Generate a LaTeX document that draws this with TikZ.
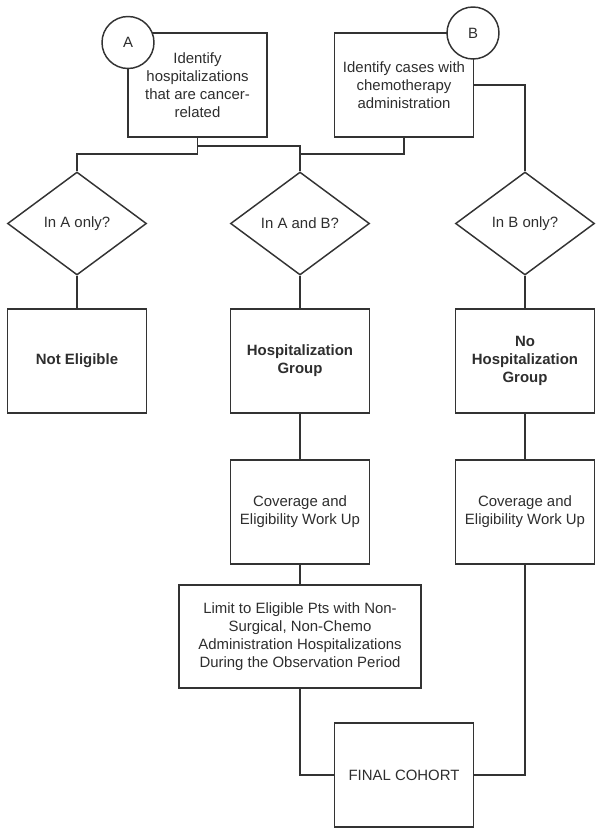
\documentclass[tikz,border=0pt]{standalone}
\usepackage{fontspec}
\setmainfont{Liberation Sans}
\usepackage{xcolor}
\usepackage{tikz}
\usetikzlibrary{shapes.geometric}

\begin{document}
\begin{tikzpicture}[
    x=0.75pt, y=-0.75pt,
    line width=1.1pt, draw=black!78,
    txt/.style={font=\fontsize{11.2}{13.6}\selectfont, text=black!82, align=center},
    box/.style={txt, draw=black!80, fill=white, line width=1.15pt, inner sep=0pt,
                minimum width=104.25pt, minimum height=78pt},
    widebox/.style={box, minimum width=181.5pt, minimum height=77.25pt},
    decide/.style={txt, diamond, draw=black!80, line width=1.1pt, inner sep=0pt,
                   minimum width=104.25pt, minimum height=77.25pt},
    tag/.style={txt, circle, draw=black!80, fill=white, line width=1.1pt, inner sep=0pt,
                minimum size=39pt},
    group/.style={box, font=\fontsize{11.2}{13.6}\selectfont\bfseries},
    link/.style={draw=black!80, line width=1.15pt},
]

\useasboundingbox (0,0) rectangle (602,835);

\def\M{300}

% ══════════════════════════════════════
% TOP: sources A and B
% ══════════════════════════════════════
\node[box] (boxA) at (197.5,85) {Identify\\hospitalizations\\that are cancer-\\related};
\node[tag] (tagA) at (128,42.5) {A};

\node[box] (boxB) at (404,85) {Identify cases with\\chemotherapy\\administration};
\node[tag] (tagB) at (473,33) {B};

% ══════════════════════════════════════
% Decisions
% ══════════════════════════════════════
\node[decide] (onlyA) at (77,223.5) {In A only?};
\node[decide] (bothAB) at (\M,223.5) {In A and B?};
\node[decide] (onlyB) at (525,223.5) {In B only?};

% junctions under the top boxes
\coordinate (jA) at (197.5,154);
\coordinate (jAB) at (197.5,146);
\coordinate (jB) at (\M,154);

\draw[link] (boxA.south) -- (jA) -| (onlyA.north);
\draw[link] (jAB) -| (bothAB.north);
\draw[link] (boxB.south) |- (jB);
\draw[link] (boxB.east) -| (onlyB.north);

% ══════════════════════════════════════
% Groups
% ══════════════════════════════════════
\node[group] (notelig) at (77,361) {Not Eligible};
\node[group] (hospgrp) at (\M,361) {Hospitalization\\Group};
\node[group] (nohosp) at (525,361) {No\\Hospitalization\\Group};

\draw[link] (onlyA.south) -- (notelig.north);
\draw[link] (bothAB.south) -- (hospgrp.north);
\draw[link] (onlyB.south) -- (nohosp.north);

% ══════════════════════════════════════
% Work up and cohort
% ══════════════════════════════════════
\node[box] (covL) at (\M,512) {Coverage and\\Eligibility Work Up};
\node[box] (covR) at (525,512) {Coverage and\\Eligibility Work Up};

\node[widebox] (limit) at (\M,636.5) {Limit to Eligible Pts with Non-\\Surgical, Non-Chemo\\Administration Hospitalizations\\During the Observation Period};

\node[box] (final) at (404,775) {FINAL COHORT};

\draw[link] (hospgrp.south) -- (covL.north);
\draw[link] (nohosp.south) -- (covR.north);
\draw[link] (covL.south) -- (limit.north);
\draw[link] (limit.south) |- (final.west);
\draw[link] (covR.south) |- (final.east);

\end{tikzpicture}
\end{document}
